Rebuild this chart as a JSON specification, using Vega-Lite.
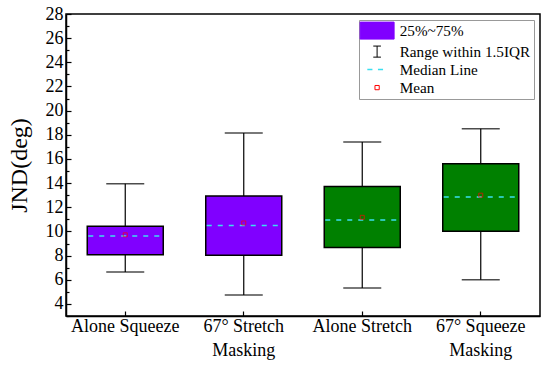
{
  "$schema": "https://vega.github.io/schema/vega-lite/v6.json",
  "width": 474,
  "height": 302,
  "autosize": "none",
  "padding": {"left": 66, "top": 14, "right": 10, "bottom": 51},
  "background": "white",
  "config": {
    "view": {"stroke": "#000000", "strokeWidth": 1.5},
    "font": "Liberation Serif",
    "axis": {"labelFont": "Liberation Serif", "titleFont": "Liberation Serif", "labelFontSize": 18, "labelColor": "#000000"},
    "legend": {"labelFont": "Liberation Serif"}
  },
  "data": {
    "values": [
      {"group": "Alone Squeeze", "set": "A", "lo": 6.64, "q1": 8.07, "median": 9.62, "q3": 10.43, "hi": 13.95, "mean": 9.72},
      {"group": "67° Stretch Masking", "set": "A", "lo": 4.74, "q1": 8.02, "median": 10.5, "q3": 12.93, "hi": 18.15, "mean": 10.7},
      {"group": "Alone Stretch", "set": "B", "lo": 5.32, "q1": 8.68, "median": 10.95, "q3": 13.71, "hi": 17.4, "mean": 11.17},
      {"group": "67° Squeeze Masking", "set": "B", "lo": 6.0, "q1": 10.01, "median": 12.85, "q3": 15.61, "hi": 18.51, "mean": 13.0}
    ]
  },
  "encoding": {
    "x": {
      "field": "group", "type": "nominal", "sort": null,
      "scale": {"type": "band", "paddingInner": 0, "paddingOuter": 0},
      "axis": {
        "title": null, "labelAngle": 0, "labelFont": "Liberation Serif", "labelFontSize": 18,
        "labelColor": "#000000", "domainColor": "#000000", "domainWidth": 1.5,
        "tickColor": "#000000", "tickSize": -5, "tickWidth": 1.2, "labelPadding": 6,
        "labelLineHeight": 24, "labelBaseline": "top",
        "labelExpr": "indexof(datum.label,' Masking')>0 ? [replace(datum.label,' Masking',''),'Masking'] : datum.label"
      }
    }
  },
  "layer": [
    {
      "mark": {"type": "rule", "color": "#000000", "strokeWidth": 1.2},
      "encoding": {
        "y": {
          "field": "lo", "type": "quantitative",
          "scale": {"domain": [3, 28], "nice": false, "zero": false},
          "axis": {
            "title": "JND(deg)", "titleFont": "Liberation Serif", "titleFontSize": 24,
            "titleFontWeight": "normal", "titleColor": "#000000", "titlePadding": 14,
            "values": [3,4,5,6,7,8,9,10,11,12,13,14,15,16,17,18,19,20,21,22,23,24,25,26,27,28],
            "tickCount": 40, "format": "d",
            "labelExpr": "datum.value % 2 == 0 ? format(datum.value, 'd') : ''",
            "labelOverlap": false, "labelBound": false, "labelFlush": false,
            "labelFont": "Liberation Serif", "labelFontSize": 18, "labelColor": "#000000",
            "labelPadding": 8, "grid": false,
            "domainColor": "#000000", "domainWidth": 1.5,
            "tickColor": "#000000", "tickWidth": 1.2,
            "tickSize": {"condition": {"test": "datum.value % 2 == 1", "value": -3}, "value": -5}
          }
        },
        "y2": {"field": "hi"}
      }
    },
    {
      "mark": {"type": "tick", "orient": "horizontal", "size": 38, "thickness": 1.5, "color": "#000000"},
      "encoding": {"y": {"field": "lo", "type": "quantitative"}}
    },
    {
      "mark": {"type": "tick", "orient": "horizontal", "size": 38, "thickness": 1.5, "color": "#000000"},
      "encoding": {"y": {"field": "hi", "type": "quantitative"}}
    },
    {
      "mark": {"type": "bar", "size": 76, "stroke": "#000000", "strokeWidth": 1.5},
      "encoding": {
        "y": {"field": "q1", "type": "quantitative"},
        "y2": {"field": "q3"},
        "fill": {
          "field": "set", "type": "nominal",
          "scale": {"domain": ["A", "B"], "range": ["#8000FF", "#008000"]},
          "legend": null
        }
      }
    },
    {
      "mark": {"type": "rule", "strokeDash": [5, 6], "strokeWidth": 1.5, "xOffset": -37, "x2Offset": 37},
      "encoding": {
        "y": {"field": "median", "type": "quantitative"},
        "x2": {"field": "group"},
        "stroke": {
          "datum": "Median Line", "type": "nominal",
          "scale": {
            "domain": ["25%~75%", "Range within 1.5IQR", "Median Line", "Mean"],
            "range": ["#8000FF", "#000000", "#3ADFF0", "#FF0000"]
          },
          "legend": {
            "title": null, "orient": "top-right", "offset": 6, "padding": 3,
            "strokeColor": "#999999", "fillColor": "#ffffff",
            "labelFont": "Liberation Serif", "labelFontSize": 15.2, "labelColor": "#000000",
            "labelBaseline": "middle",
            "symbolSize": 289, "symbolOffset": 7.5, "labelOffset": 15, "rowPadding": 2,
            "symbolStrokeWidth": 1,
            "encoding": {
              "symbols": {
                "shape": {"value": {"expr": "datum.value == '25%~75%' ? 'M-2,-1H2V1H-2Z' : datum.value == 'Range within 1.5IQR' ? 'M-0.45,-0.65H0.45M0,-0.65V0.65M-0.45,0.65H0.45' : datum.value == 'Median Line' ? 'M-1.15,0H-0.55M0.1,0H0.7' : 'M-0.25,-0.25H0.25V0.25H-0.25Z'"}},
                "fill": {"value": {"expr": "datum.value == '25%~75%' ? '#8000FF' : 'transparent'"}},
                "stroke": {"value": {"expr": "datum.value == 'Median Line' ? '#3ADFF0' : datum.value == 'Mean' ? '#FF8080' : '#000000'"}},
                "strokeWidth": {"value": {"expr": "datum.value == 'Median Line' ? 1.5 : 1"}}
              }
            }
          }
        }
      }
    },
    {
      "mark": {"type": "point", "shape": "square", "size": 16, "filled": false, "color": "#FF0000", "strokeWidth": 1},
      "encoding": {"y": {"field": "mean", "type": "quantitative"}}
    }
  ]
}
